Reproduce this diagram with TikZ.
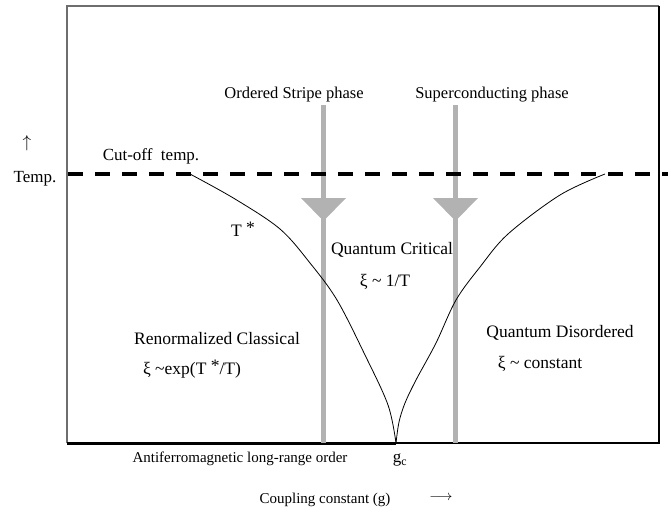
\documentclass[tikz,border=0pt]{standalone}
\usepackage{fontspec}
\setmainfont{Liberation Serif}
\usepackage{tikz}
\usetikzlibrary{positioning}
\definecolor{bargray}{RGB}{178,178,178}
\definecolor{framegray}{RGB}{110,110,110}
\newcommand{\upstar}{\raisebox{0.35ex}{*}}

\begin{document}
\begin{tikzpicture}[x=1pt, y=-1pt,
    region/.style={inner sep=0pt, font=\fontsize{17.5}{20}\selectfont},
    phase/.style={inner sep=0pt, font=\fontsize{16.5}{19}\selectfont},
    axlbl/.style={inner sep=0pt, font=\fontsize{17}{20}\selectfont},
    small/.style={inner sep=0pt, font=\fontsize{15}{18}\selectfont},
    bar/.style={bargray, line width=5pt},
    cutoff/.style={line width=4.5pt, dash pattern=on 15pt off 12pt},
    crossover/.style={line width=0.8pt}
  ]
    \useasboundingbox (0,0) rectangle (668,508);
    % frame
    \draw[framegray, line width=2pt] (67,443) -- (67,6) -- (659,6);
    \draw[line width=1.5pt] (659,6) -- (659,443) -- (396,443);
    \coordinate (gc) at (396,443);
    \draw[line width=3pt] (67,443) -- (gc);

    % phase bars with their arrowheads
    \node[phase] (stripe) at (294,95) {Ordered Stripe phase};
    \node[phase] (super) at (492,95) {Superconducting phase};
    \foreach \x in {323.5, 455.5} {
      \draw[bar] (\x,105) -- (\x,443);
      \fill[bargray] (\x-22.5,198) -- (\x+22.5,198) -- (\x,221) -- cycle;
    }

    % cut-off line
    \draw[cutoff] (68,174) -- (668,174);

    % crossover lines
    \coordinate (tL) at (190,174);
    \coordinate (tR) at (605,174);
    \draw[crossover] plot[smooth, tension=0.55] coordinates
      {(tL) (235,199) (280,229) (310,263) (337,300) (365,355) (388,405) (gc)};
    \draw[crossover] plot[smooth, tension=0.55] coordinates
      {(gc) (399,422) (405,403) (416,380) (436,343) (456,300) (480,267)
       (508,234) (560,195) (tR)};

    % labels
    \node[axlbl] (uparr) at (27,143) {$\uparrow$};
    \node[axlbl] (temp) at (35,179) {Temp.};
    \node[axlbl] (cut) at (151,156) {Cut-off\ \ temp.};
    \node[region] (tstar) at (243,229) {T \upstar};
    \node[region] (qc) at (392,250) {Quantum Critical};
    \node[region] (qcxi) at (385,282) {ξ \textasciitilde\ 1/T};
    \node[region] (rc) at (217,339) {Renormalized Classical};
    \node[region] (rcxi) at (192,369) {ξ \textasciitilde exp(T \upstar/T)};
    \node[region] (qd) at (560,333) {Quantum Disordered};
    \node[region] (qdxi) at (540,364) {ξ \textasciitilde\ constant};
    \node[small] (afm) at (240,459) {Antiferromagnetic long-range order};
    \node[axlbl] (gclbl) at (400,460) {g\textsubscript{c}};
    \node[small] (coupl) at (325,500) {Coupling constant (g)};
    \node[small] (rarr) at (441,498) {$\longrightarrow$};
  \end{tikzpicture}
\end{document}
